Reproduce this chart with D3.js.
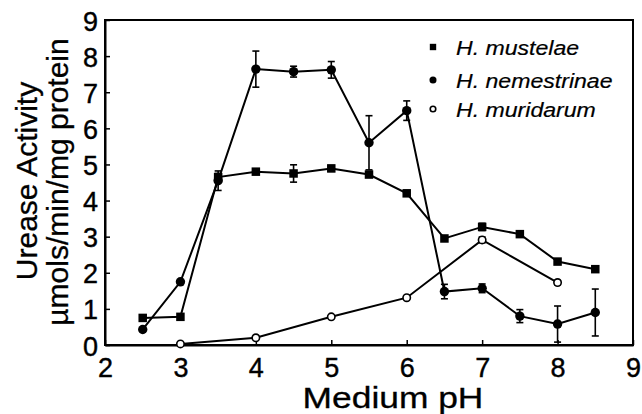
<!DOCTYPE html>
<html><head><meta charset="utf-8">
<script src="https://cdn.jsdelivr.net/npm/d3@7"></script>
<style>
html,body{margin:0;padding:0;background:#fff;}
svg{display:block;}
text{font-family:"Liberation Sans",Arial,Helvetica,sans-serif;fill:#000;}
</style></head><body>
<svg id="chart" width="642" height="414"></svg>
<script>
// ---- data ----
const phMustelae = [2.5,3,3.5,4,4.5,5,5.5,6,6.5,7,7.5,8,8.5];
const valMustelae = [0.75,0.78,4.65,4.80,4.75,4.89,4.72,4.20,2.95,3.27,3.07,2.31,2.10];
const errMustelae = [0.08,0,0.1,0.05,0.24,0.08,0.05,0.08,0,0.1,0,0,0];

const phNemestrinae = [2.5,3,3.5,4,4.5,5,5.5,6,6.5,7,7.5,8,8.5];
const valNemestrinae = [0.43,1.75,4.55,7.64,7.57,7.62,5.60,6.49,1.48,1.57,0.80,0.58,0.90];
const errNemestrinae = [0,0.05,0.27,0.50,0.15,0.23,0.75,0.27,0.20,0.12,0.18,0.50,0.65];

const phMuridarum = [3,4,5,6,7,8];
const valMuridarum = [0.03,0.20,0.78,1.31,2.91,1.73];
const errMuridarum = [0,0,0,0,0.08,0.06];

const legendLabels = ["H. mustelae","H. nemestrinae","H. muridarum"];
const xTicks = [2,3,4,5,6,7,8,9];
const yTicks = [0,1,2,3,4,5,6,7,8,9];
const xTitle = "Medium pH";
const yTitle1 = "Urease Activity";
const yTitle2 = "µmols/min/mg protein";

// ---- layout ----
const svg = d3.select("#chart");
const L = 105, R = 633, T = 20, B = 345;
const x = d3.scaleLinear().domain([2,9]).range([L,R]);
const y = d3.scaleLinear().domain([0,9]).range([B,T]);

// frame
svg.append("rect").attr("x",L).attr("y",T).attr("width",R-L).attr("height",B-T)
  .attr("fill","none").attr("stroke","#000").attr("stroke-width",2);

// axes
const xAxis = svg.append("g").attr("transform",`translate(0,${B})`)
  .call(d3.axisBottom(x).tickValues(xTicks).tickFormat(d3.format("d")).tickSizeInner(-5).tickSizeOuter(0));
const yAxis = svg.append("g").attr("transform",`translate(${L},0)`)
  .call(d3.axisLeft(y).tickValues(yTicks).tickFormat(d3.format("d")).tickSizeInner(-5).tickSizeOuter(0));
[xAxis,yAxis].forEach(a=>{
  a.select(".domain").attr("stroke-width",2);
  a.selectAll(".tick line").attr("stroke-width",1.5);
  a.selectAll(".tick text").style("font-family","Liberation Sans, Arial, sans-serif")
    .attr("font-size",27).attr("fill","#000").attr("stroke","#000").attr("stroke-width",0.4);
});
xAxis.selectAll(".tick text").attr("dy",null).attr("y",32);
yAxis.selectAll(".tick text").attr("x",-7).attr("dy",null).attr("y",10);

// titles
svg.append("text").attr("transform",`translate(393,408) scale(1.22,1)`)
  .attr("text-anchor","middle").attr("font-size",29).attr("stroke","#000").attr("stroke-width",0.3).text(xTitle);
svg.append("text").attr("transform",`translate(37,181) rotate(-90)`)
  .attr("text-anchor","middle").attr("font-size",30).attr("stroke","#000").attr("stroke-width",0.3).text(yTitle1);
svg.append("text").attr("transform",`translate(68,182) rotate(-90)`)
  .attr("text-anchor","middle").attr("font-size",30).attr("stroke","#000").attr("stroke-width",0.3).text(yTitle2);

// series
const series = [
  {ph:phMustelae, v:valMustelae, e:errMustelae, shape:"square"},
  {ph:phNemestrinae, v:valNemestrinae, e:errNemestrinae, shape:"circle"},
  {ph:phMuridarum, v:valMuridarum, e:errMuridarum, shape:"open"}
];
const line = d3.line().x(d=>x(d[0])).y(d=>y(d[1]));
function marker(g, shape, cx, cy, scale){
  if(shape==="square"){
    const s=8.5*scale;
    g.append("rect").attr("x",cx-s/2).attr("y",cy-s/2).attr("width",s).attr("height",s).attr("fill","#000");
  } else if(shape==="circle"){
    g.append("circle").attr("cx",cx).attr("cy",cy).attr("r",4.7*scale).attr("fill","#000");
  } else {
    g.append("circle").attr("cx",cx).attr("cy",cy).attr("r",3.7*scale).attr("fill","#fff").attr("stroke","#000").attr("stroke-width",1.6);
  }
}
series.forEach(s=>{
  const pts = s.ph.map((p,i)=>[p,s.v[i],s.e[i]]);
  const g = svg.append("g");
  g.append("path").datum(pts).attr("d",line).attr("fill","none").attr("stroke","#000").attr("stroke-width",2);
  pts.forEach(d=>{
    if(d[2]>0){
      const cx=x(d[0]), y1=y(d[1]+d[2]), y2=y(Math.max(0,d[1]-d[2]));
      g.append("line").attr("x1",cx).attr("x2",cx).attr("y1",y1).attr("y2",y2).attr("stroke","#000").attr("stroke-width",1.6);
      [y1,y2].forEach(yy=>g.append("line").attr("x1",cx-3.5).attr("x2",cx+3.5).attr("y1",yy).attr("y2",yy).attr("stroke","#000").attr("stroke-width",1.6));
    }
  });
  pts.forEach(d=>marker(g,s.shape,x(d[0]),y(d[1]),1));
});

// legend
const lg = svg.append("g");
const legendBase = [55,88,117];
legendLabels.forEach((lab,i)=>{
  const base = legendBase[i];
  marker(lg, series[i].shape, 433, base-8, 0.75);
  lg.append("text").attr("transform",`translate(456,${base}) scale(1.1,1)`)
    .attr("font-size",21).attr("font-style","italic").attr("stroke","#000").attr("stroke-width",0.2).text(lab);
});
</script>
</body></html>
